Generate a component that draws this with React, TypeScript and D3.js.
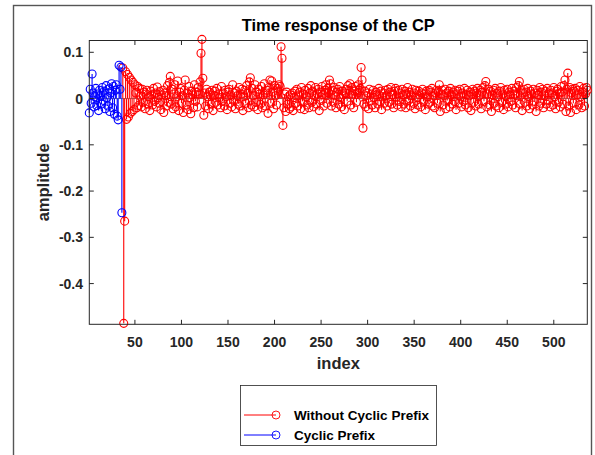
import React from "react";
import * as d3 from "d3";

// ---- data ----
const title = "Time response of the CP";
const xLabel = "index";
const yLabel = "amplitude";
const xTicks = [50, 100, 150, 200, 250, 300, 350, 400, 450, 500];
const yTicks = [0.1, 0, -0.1, -0.2, -0.3, -0.4];
const yTickLabels = ["0.1", "0", "-0.1", "-0.2", "-0.3", "-0.4"];
const xLimits = [1, 536];
const yLimits = [-0.488, 0.1255];
const seriesNames = ["Without Cyclic Prefix", "Cyclic Prefix"];
const seriesColors = ["#ff0000", "#0000ff"];

// Cyclic Prefix: samples 1..36
const cpStart = 1;
const cpValues = [
  -0.031, 0.02, -0.01, 0.053, 0.012, -0.018, 0.004, 0.022, -0.015, 0.01,
  -0.026, 0.018, 0.006, -0.012, 0.024, -0.004, 0.016, -0.022, 0.028, 0.002,
  -0.016, 0.021, -0.028, 0.012, 0.032, -0.02, 0.026, -0.034, 0.018, 0.03,
  -0.038, -0.046, 0.072, 0.02, 0.068, -0.247,
];

// Without Cyclic Prefix: samples 37..536
const noCpStart = 37;
const noCpValues = [
  0.066, -0.486, -0.265, 0.058, -0.045, 0.052, -0.04, 0.046, -0.032, 0.04, -0.028, 0.035, -0.024, 0.03, 0.012, -0.02, 0.026, -0.015, 0.022, 0.005,
  -0.018, 0.02, -0.008, 0.014, -0.022, 0.01, 0.018, -0.012, 0.004, -0.026, 0.016, 0.008, -0.014, 0.022, -0.006, 0.012, -0.018, 0.025, 0.002, -0.01,
  0.015, -0.024, 0.008, 0.018, -0.03, 0.012, 0.006, -0.016, 0.028, -0.008, 0.035, 0.048, -0.012, 0.02, -0.022, 0.01, 0.03, -0.018, 0.004, 0.038,
  -0.026, 0.014, 0.022, -0.01, 0.006, -0.03, 0.018, 0.04, -0.014, 0.012, -0.024, 0.026, 0.002, -0.033, 0.016, 0.008, -0.02, 0.03, -0.006, 0.014,
  -0.018, 0.024, 0.01, 0.036, 0.098, 0.128, 0.044, -0.036, 0.012, -0.016, 0.02, 0.004, -0.022, 0.014, 0.008, -0.012, 0.018, -0.026, 0.006, 0.016,
  -0.008, 0.022, -0.014, 0.01, 0.002, -0.02, 0.026, -0.006, 0.012, -0.016, 0.018, 0.004, -0.024, 0.014, 0.02, -0.01, 0.008, -0.018, 0.03, -0.004,
  0.012, -0.022, 0.016, 0.006, -0.012, 0.024, -0.016, 0.01, 0.02, -0.026, 0.004, 0.018, -0.01, 0.028, 0.012, -0.02, 0.036, 0.045, -0.014, 0.022,
  0.006, -0.018, 0.03, -0.008, 0.014, -0.024, 0.02, 0.01, -0.012, 0.026, -0.02, 0.008, 0.032, -0.016, 0.012, 0.018, -0.032, 0.024, 0.04, -0.01,
  0.038, 0.014, -0.022, 0.028, 0.006, -0.014, 0.022, 0.016, 0.03, 0.026, 0.112, 0.087, -0.058, -0.02, 0.01, -0.028, 0.014, -0.012, 0.004, -0.022,
  0.008, -0.018, 0.012, -0.026, 0.002, 0.016, -0.01, 0.02, -0.016, 0.006, 0.014, -0.022, 0.024, -0.006, 0.01, -0.024, 0.018, 0.004, -0.014, 0.022,
  -0.02, 0.012, 0.028, -0.008, 0.016, -0.018, 0.006, 0.024, -0.012, 0.01, 0.02, -0.026, 0.014, -0.004, 0.026, 0.008, -0.016, 0.018, 0.03, -0.01,
  0.022, 0.012, 0.04, 0.032, -0.016, 0.018, -0.008, 0.024, 0.006, -0.02, 0.014, 0.02, -0.012, 0.026, 0.002, -0.018, 0.016, 0.008, -0.024, 0.012,
  0.02, -0.006, 0.028, 0.018, 0.032, -0.014, 0.024, 0.01, -0.02, 0.016, 0.026, -0.008, 0.012, 0.03, 0.018, 0.022, 0.067, 0.04, -0.064, -0.012,
  0.016, -0.018, 0.006, 0.012, -0.022, 0.02, -0.004, 0.01, -0.014, 0.018, 0.002, -0.02, 0.014, 0.008, -0.012, 0.022, -0.006, 0.016, -0.024, 0.004,
  0.012, -0.01, 0.018, 0.006, -0.016, 0.02, -0.008, 0.014, 0.024, -0.012, 0.008, -0.02, 0.016, 0.022, 0.004, -0.014, 0.018, -0.006, 0.012, -0.018,
  0.02, 0.008, -0.012, 0.016, -0.02, 0.01, 0.024, -0.004, 0.014, -0.016, 0.006, 0.02, -0.01, 0.012, -0.022, 0.018, 0.002, -0.014, 0.016, 0.008,
  -0.018, 0.012, 0.02, -0.006, 0.01, -0.024, 0.016, 0.004, -0.012, 0.018, -0.008, 0.014, 0.022, -0.016, 0.006, -0.02, 0.012, 0.018, -0.01, 0.016,
  0.03, -0.028, 0.01, 0.018, -0.014, 0.006, 0.02, -0.022, 0.012, -0.004, 0.016, -0.018, 0.022, 0.008, -0.012, 0.014, -0.006, 0.018, -0.024, 0.01,
  0.016, -0.01, 0.02, 0.004, -0.018, 0.012, -0.006, 0.022, -0.014, 0.008, 0.018, -0.02, 0.006, 0.014, -0.026, 0.01, 0.02, -0.008, 0.016, -0.016,
  0.012, 0.022, -0.012, 0.006, 0.018, -0.022, 0.014, 0.024, -0.006, 0.028, 0.037, -0.018, 0.01, 0.02, -0.014, 0.016, -0.028, 0.008, 0.018, -0.01,
  0.022, -0.016, 0.012, 0.004, -0.02, 0.016, 0.024, -0.008, 0.01, -0.024, 0.018, 0.006, -0.012, 0.02, -0.018, 0.014, 0.008, -0.006, 0.022, -0.014,
  0.016, 0.01, -0.02, 0.024, 0.006, 0.028, 0.037, -0.012, 0.018, -0.026, 0.012, 0.02, -0.008, 0.014, -0.016, 0.022, 0.004, -0.022, 0.016, 0.01,
  -0.014, 0.02, -0.006, 0.012, -0.028, 0.018, 0.008, -0.016, 0.024, -0.01, 0.014, 0.02, -0.02, 0.006, 0.016, -0.012, 0.022, -0.004, 0.01, -0.018,
  0.018, 0.012, -0.014, 0.024, 0.004, -0.022, 0.016, 0.02, -0.008, 0.012, -0.018, 0.026, 0.014, -0.012, 0.028, 0.04, -0.028, 0.02, 0.055, -0.016,
  0.024, -0.03, 0.012, 0.02, -0.01, 0.016, 0.022, -0.024, 0.008, 0.018, -0.014, 0.026, 0.004, -0.02, 0.014, 0.022, -0.016, 0.01, 0.024, 0.018,
];

// ---- layout ----
const W = 595;
const H = 455;
const plot = { left: 89.3, right: 587.3, top: 40.5, bottom: 324.3 };
const FONT = "'Liberation Sans', Arial, Helvetica, sans-serif";
const AX = "#262626";

export default function App() {
  const x = d3.scaleLinear().domain(xLimits).range([plot.left, plot.right]);
  const y = d3.scaleLinear().domain(yLimits).range([plot.bottom, plot.top]);
  const y0 = y(0);
  const tickLen = 4.5;

  const series = [
    { name: seriesNames[0], color: seriesColors[0], start: noCpStart, values: noCpValues },
    { name: seriesNames[1], color: seriesColors[1], start: cpStart, values: cpValues },
  ];

  return (
    <svg
      width={W}
      height={H}
      viewBox={`0 0 ${W} ${H}`}
      style={{ position: "absolute", left: 0, top: 0, background: "#fff" }}
      fontFamily={FONT}
    >
      <rect x={0} y={0} width={W} height={H} fill="#fff" />
      {/* figure frame */}
      <rect x={13.5} y={5.5} width={578} height={470} fill="none" stroke="#555" strokeWidth={1.4} />

      {/* title */}
      <text x={(plot.left + plot.right) / 2} y={31} textAnchor="middle" fontSize={16.5} fontWeight="bold" fill="#000">
        {title}
      </text>

      {/* baseline */}
      <line x1={plot.left} x2={plot.right} y1={y0} y2={y0} stroke={AX} strokeWidth={0.6} />

      {/* stems */}
      {series.map((s) => {
        const idx = d3.range(s.start, s.start + s.values.length);
        return (
          <g key={s.name}>
            {s.values.map((v, i) => (
              <line key={"l" + i} x1={x(idx[i])} x2={x(idx[i])} y1={y0} y2={y(v)} stroke={s.color} strokeWidth={1.1} />
            ))}
            {s.values.map((v, i) => (
              <circle key={"c" + i} cx={x(idx[i])} cy={y(v)} r={4} fill="none" stroke={s.color} strokeWidth={1.1} />
            ))}
          </g>
        );
      })}

      {/* axes box */}
      <rect
        x={plot.left}
        y={plot.top}
        width={plot.right - plot.left}
        height={plot.bottom - plot.top}
        fill="none"
        stroke={AX}
        strokeWidth={1}
      />

      {/* x ticks */}
      {xTicks.map((t) => (
        <g key={"xt" + t}>
          <line x1={x(t)} x2={x(t)} y1={plot.bottom} y2={plot.bottom - tickLen} stroke={AX} strokeWidth={1} />
          <line x1={x(t)} x2={x(t)} y1={plot.top} y2={plot.top + tickLen} stroke={AX} strokeWidth={1} />
          <text x={x(t)} y={346.5} textAnchor="middle" fontSize={14} fontWeight="bold" fill={AX}>
            {String(t)}
          </text>
        </g>
      ))}

      {/* y ticks */}
      {yTicks.map((t, i) => (
        <g key={"yt" + t}>
          <line x1={plot.left} x2={plot.left + tickLen} y1={y(t)} y2={y(t)} stroke={AX} strokeWidth={1} />
          <line x1={plot.right} x2={plot.right - tickLen} y1={y(t)} y2={y(t)} stroke={AX} strokeWidth={1} />
          <text x={83} y={y(t)} dy="0.36em" textAnchor="end" fontSize={14} fontWeight="bold" fill={AX}>
            {yTickLabels[i]}
          </text>
        </g>
      ))}

      {/* axis labels */}
      <text x={(plot.left + plot.right) / 2} y={368.5} textAnchor="middle" fontSize={16.5} fontWeight="bold" fill={AX}>
        {xLabel}
      </text>
      <text
        transform={`translate(49, ${(plot.top + plot.bottom) / 2}) rotate(-90)`}
        textAnchor="middle"
        fontSize={16.5}
        fontWeight="bold"
        fill={AX}
      >
        {yLabel}
      </text>

      {/* legend */}
      <rect x={240.5} y={385.5} width={196} height={60} fill="#fff" stroke={AX} strokeWidth={0.8} />
      {series.map((s, i) => {
        const ly = 415 + i * 20;
        return (
          <g key={"lg" + i}>
            <line x1={244} x2={276} y1={ly} y2={ly} stroke={s.color} strokeWidth={1} />
            <circle cx={276} cy={ly} r={4} fill="none" stroke={s.color} strokeWidth={0.9} />
            <text x={294} y={ly + 5} fontSize={13.5} fontWeight="bold" fill="#000">
              {s.name}
            </text>
          </g>
        );
      })}
    </svg>
  );
}
